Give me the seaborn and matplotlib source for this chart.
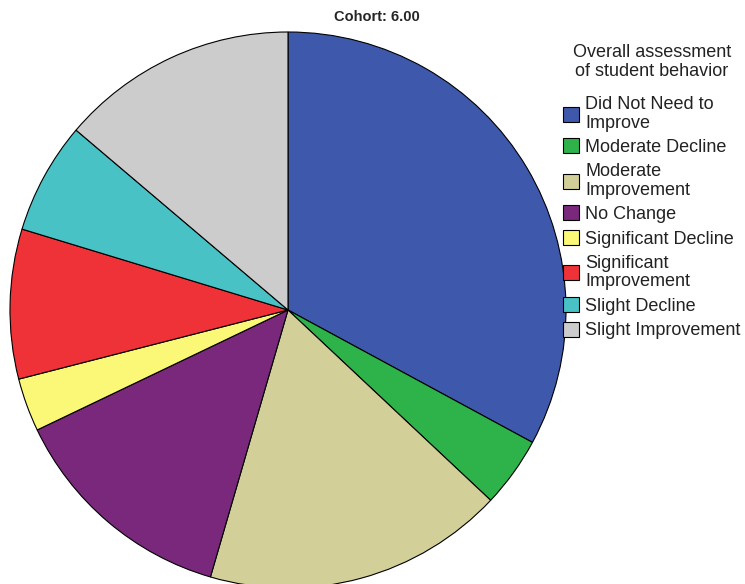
import matplotlib
matplotlib.use("Agg")
import matplotlib.pyplot as plt
import seaborn as sns
from matplotlib.patches import Patch

sns.set_theme(style="white")
plt.rcParams['font.family'] = ['Liberation Sans', 'DejaVu Sans']

categories = ["Did Not Need to\nImprove", "Moderate Decline", "Moderate\nImprovement",
              "No Change", "Significant Decline", "Significant\nImprovement",
              "Slight Decline", "Slight Improvement"]
percents = [32.9, 4.1, 17.5, 13.4, 3.1, 8.7, 6.5, 13.8]
colors = ["#3E58AC", "#2EB34B", "#D3CF98", "#7A287C", "#FBF877", "#EF3238", "#49C2C6", "#CCCCCC"]
title = "Cohort: 6.00"
legend_title = "Overall assessment\nof student behavior"

W, H = 745, 584
fig = plt.figure(figsize=(W / 100, H / 100), dpi=100)
ax = fig.add_axes([0, 0, 1, 1])
cx, cy, r = 288, 310, 278
wedges, _ = ax.pie(percents, colors=colors, startangle=90, counterclock=False,
                   wedgeprops=dict(edgecolor="black", linewidth=0.8))
ax.set_aspect("auto")
ax.set_xlim(-cx / r, (W - cx) / r)
ax.set_ylim(-(H - cy) / r, cy / r)
ax.axis("off")

fig.text(377 / W, 1 - 17 / H, title, ha="center", va="center", fontsize=10.5,
         fontweight="bold")

fig.text(652 / W, 1 - 62 / H, legend_title, ha="center", va="center", fontsize=13,
         linespacing=1.18, multialignment="center", color="#222222")

handles = [Patch(facecolor=c, edgecolor="black", linewidth=0.8) for c in colors]
leg = fig.legend(handles, categories, loc="upper left",
                 bbox_to_anchor=(563 / W, 1 - 96 / H), frameon=False,
                 fontsize=13, handlelength=0.9, handleheight=0.9,
                 handletextpad=0.33, labelspacing=0.38, borderaxespad=0, borderpad=0)
for t in leg.get_texts():
    t.set_linespacing(1.12)
    t.set_color("#222222")

fig.savefig("out.png", dpi=100)
